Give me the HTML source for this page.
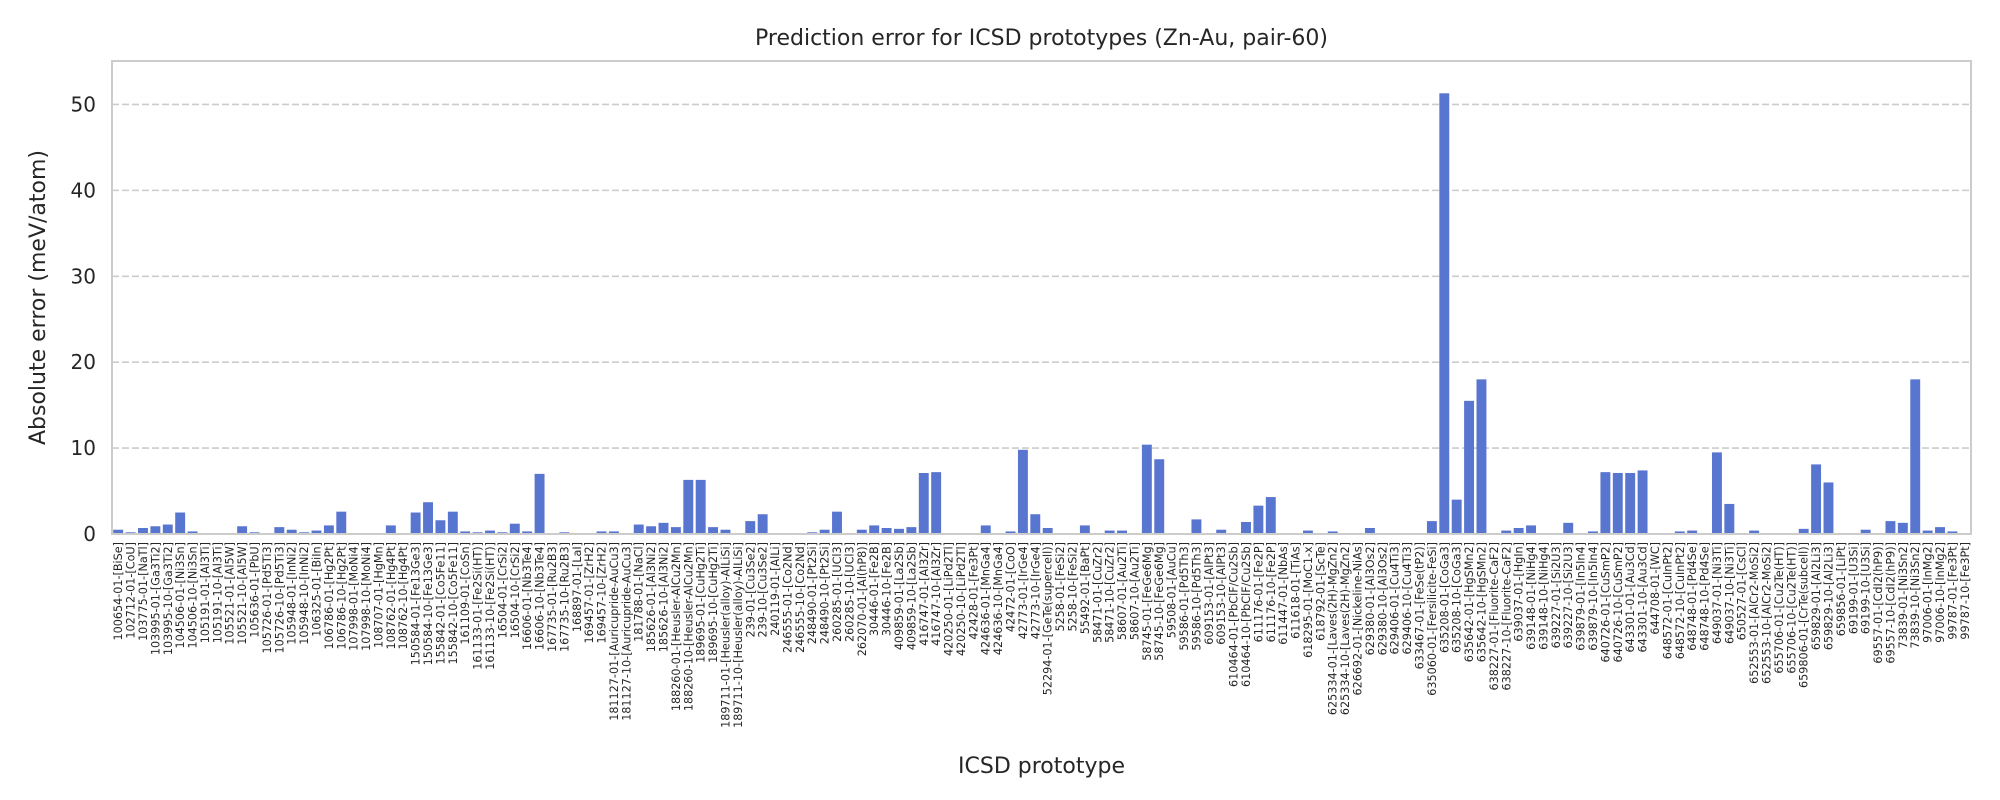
<!DOCTYPE html>
<html><head><meta charset="utf-8">
<style>
html,body{margin:0;padding:0;background:#fff;}
svg{display:block;font-family:"DejaVu Sans","Liberation Sans",sans-serif;}
</style></head>
<body>
<svg id="chart" width="2000" height="800" viewBox="0 0 2000 800"></svg>
<script>
const categories = ["100654-01-[BiSe]","102712-01-[CoU]","103775-01-[NaTl]","103995-01-[Ga3Ti2]","103995-10-[Ga3Ti2]","104506-01-[Ni3Sn]","104506-10-[Ni3Sn]","105191-01-[Al3Ti]","105191-10-[Al3Ti]","105521-01-[Al5W]","105521-10-[Al5W]","105636-01-[PbU]","105726-01-[Pd5Ti3]","105726-10-[Pd5Ti3]","105948-01-[InNi2]","105948-10-[InNi2]","106325-01-[BiIn]","106786-01-[Hg2Pt]","106786-10-[Hg2Pt]","107998-01-[MoNi4]","107998-10-[MoNi4]","108707-01-[HgMn]","108762-01-[Hg4Pt]","108762-10-[Hg4Pt]","150584-01-[Fe13Ge3]","150584-10-[Fe13Ge3]","155842-01-[Co5Fe11]","155842-10-[Co5Fe11]","161109-01-[CoSn]","161133-01-[Fe2Si(HT)]","161133-10-[Fe2Si(HT)]","16504-01-[CrSi2]","16504-10-[CrSi2]","16606-01-[Nb3Te4]","16606-10-[Nb3Te4]","167735-01-[Ru2B3]","167735-10-[Ru2B3]","168897-01-[LaI]","169457-01-[ZrH2]","169457-10-[ZrH2]","181127-01-[Auricupride-AuCu3]","181127-10-[Auricupride-AuCu3]","181788-01-[NaCl]","185626-01-[Al3Ni2]","185626-10-[Al3Ni2]","188260-01-[Heusler-AlCu2Mn]","188260-10-[Heusler-AlCu2Mn]","189695-01-[CuHg2Ti]","189695-10-[CuHg2Ti]","189711-01-[Heusler(alloy)-AlLiSi]","189711-10-[Heusler(alloy)-AlLiSi]","239-01-[Cu3Se2]","239-10-[Cu3Se2]","240119-01-[AlLi]","246555-01-[Co2Nd]","246555-10-[Co2Nd]","248490-01-[Pt2Si]","248490-10-[Pt2Si]","260285-01-[UCl3]","260285-10-[UCl3]","262070-01-[Al(hP8)]","30446-01-[Fe2B]","30446-10-[Fe2B]","409859-01-[La2Sb]","409859-10-[La2Sb]","416747-01-[Al3Zr]","416747-10-[Al3Zr]","420250-01-[LiPd2Tl]","420250-10-[LiPd2Tl]","42428-01-[Fe3Pt]","424636-01-[MnGa4]","424636-10-[MnGa4]","42472-01-[CoO]","42773-01-[IrGe4]","42773-10-[IrGe4]","52294-01-[GeTe(supercell)]","5258-01-[FeSi2]","5258-10-[FeSi2]","55492-01-[BaPt]","58471-01-[CuZr2]","58471-10-[CuZr2]","58607-01-[Au2Ti]","58607-10-[Au2Ti]","58745-01-[FeGe6Mg]","58745-10-[FeGe6Mg]","59508-01-[AuCu]","59586-01-[Pd5Th3]","59586-10-[Pd5Th3]","609153-01-[AlPt3]","609153-10-[AlPt3]","610464-01-[PbClF/Cu2Sb]","610464-10-[PbClF/Cu2Sb]","611176-01-[Fe2P]","611176-10-[Fe2P]","611447-01-[NbAs]","611618-01-[TiAs]","618295-01-[MoC1-x]","618792-01-[ScTe]","625334-01-[Laves(2H)-MgZn2]","625334-10-[Laves(2H)-MgZn2]","626692-01-[Nickeline-NiAs]","629380-01-[Al3Os2]","629380-10-[Al3Os2]","629406-01-[Cu4Ti3]","629406-10-[Cu4Ti3]","633467-01-[FeSe(tP2)]","635060-01-[Fersilicite-FeSi]","635208-01-[CoGa3]","635208-10-[CoGa3]","635642-01-[HgSMn2]","635642-10-[HgSMn2]","638227-01-[Fluorite-CaF2]","638227-10-[Fluorite-CaF2]","639037-01-[HgIn]","639148-01-[NiHg4]","639148-10-[NiHg4]","639227-01-[Si2U3]","639227-10-[Si2U3]","639879-01-[In5In4]","639879-10-[In5In4]","640726-01-[CuSmP2]","640726-10-[CuSmP2]","643301-01-[Au3Cd]","643301-10-[Au3Cd]","644708-01-[WC]","648572-01-[CuInPt2]","648572-10-[CuInPt2]","648748-01-[Pd4Se]","648748-10-[Pd4Se]","649037-01-[Ni3Ti]","649037-10-[Ni3Ti]","650527-01-[CsCl]","652553-01-[AlCr2-MoSi2]","652553-10-[AlCr2-MoSi2]","655706-01-[Cu2Te(HT)]","655706-10-[Cu2Te(HT)]","659806-01-[CrTe(subcell)]","659829-01-[Al2Li3]","659829-10-[Al2Li3]","659856-01-[LiPt]","69199-01-[U3Si]","69199-10-[U3Si]","69557-01-[CdI2(hP9)]","69557-10-[CdI2(hP9)]","73839-01-[Ni3Sn2]","73839-10-[Ni3Sn2]","97006-01-[InMg2]","97006-10-[InMg2]","99787-01-[Fe3Pt]","99787-10-[Fe3Pt]"];
const errors = [0.5,0.2,0.7,0.9,1.1,2.5,0.3,0,0,0,0.9,0.2,0,0.8,0.5,0.2,0.4,1.0,2.6,0,0,0,1.0,0,2.5,3.7,1.6,2.6,0.3,0.2,0.4,0.2,1.2,0.3,7.0,0,0.2,0,0,0.3,0.3,0,1.1,0.9,1.3,0.8,6.3,6.3,0.8,0.5,0,1.5,2.3,0,0,0,0.2,0.5,2.6,0,0.5,1.0,0.7,0.6,0.8,7.1,7.2,0,0,0,1.0,0,0.3,9.8,2.3,0.7,0,0,1.0,0,0.4,0.4,0,10.4,8.7,0,0,1.7,0,0.5,0,1.4,3.3,4.3,0.1,0,0.4,0,0.3,0,0,0.7,0,0,0,0,1.5,51.3,4.0,15.5,18.0,0,0.4,0.7,1.0,0,0.1,1.3,0,0.3,7.2,7.1,7.1,7.4,0,0,0.3,0.4,0,9.5,3.5,0,0.4,0,0.1,0,0.6,8.1,6.0,0,0,0.5,0,1.5,1.3,18.0,0.4,0.8,0.3,0];
const yTicks = [0,10,20,30,40,50];

const NS="http://www.w3.org/2000/svg";
const svg=document.getElementById('chart');
const L=112,R=1971,T=61,B=534,YMAX=55.06;
const n=categories.length, step=(R-L)/n, bw=step*0.8;
const xScale=i=>L+step*(i+0.5);
const yScale=v=>B-(v/YMAX)*(B-T);
function mk(tag,attrs,parent){const e=document.createElementNS(NS,tag);for(const k in attrs)e.setAttribute(k,attrs[k]);(parent||svg).appendChild(e);return e;}

const grid=mk('g',{});


yTicks.forEach(t=>{ if(t===0) return;
  const l=mk('line',{x1:L,x2:R,y1:yScale(t),y2:yScale(t),stroke:'#cccccc','stroke-width':1.6,'stroke-dasharray':'7,3'},grid);
  
  
});
const yt=mk('g',{});


yTicks.forEach(t=>{
  const tx=mk('text',{x:L-16,y:yScale(t)+7,'text-anchor':'end','font-size':20,fill:'#262626'},yt);
  tx.textContent=t;
  
  
});
const bars=mk('g',{});


errors.forEach((v,i)=>{
  const r=mk('rect',{x:xScale(i)-bw/2,y:yScale(v),width:bw,height:B-yScale(v),fill:'#5875d0'},bars);
  
  
});
const xl=mk('g',{});


categories.forEach((c,i)=>{
  const x=xScale(i)+4, y=B+8;
  const tx=mk('text',{x:x,y:y,'text-anchor':'end','font-size':11.2,fill:'#262626',transform:`rotate(-90 ${x} ${y})`},xl);
  tx.textContent=c;
  
  
});
const fr=mk('rect',{x:L,y:T,width:R-L,height:B-T,fill:'none',stroke:'#cccccc','stroke-width':2});


const title=mk('text',{x:(L+R)/2,y:45,'text-anchor':'middle','font-size':22,fill:'#262626'});
title.textContent='Prediction error for ICSD prototypes (Zn-Au, pair-60)';


const xt=mk('text',{x:(L+R)/2,y:773,'text-anchor':'middle','font-size':22,fill:'#262626'});
xt.textContent='ICSD prototype';


const ytt=mk('text',{x:45,y:(T+B)/2,'text-anchor':'middle','font-size':22,fill:'#262626',transform:`rotate(-90 45 ${(T+B)/2})`});
ytt.textContent='Absolute error (meV/atom)';


</script>
</body></html>
